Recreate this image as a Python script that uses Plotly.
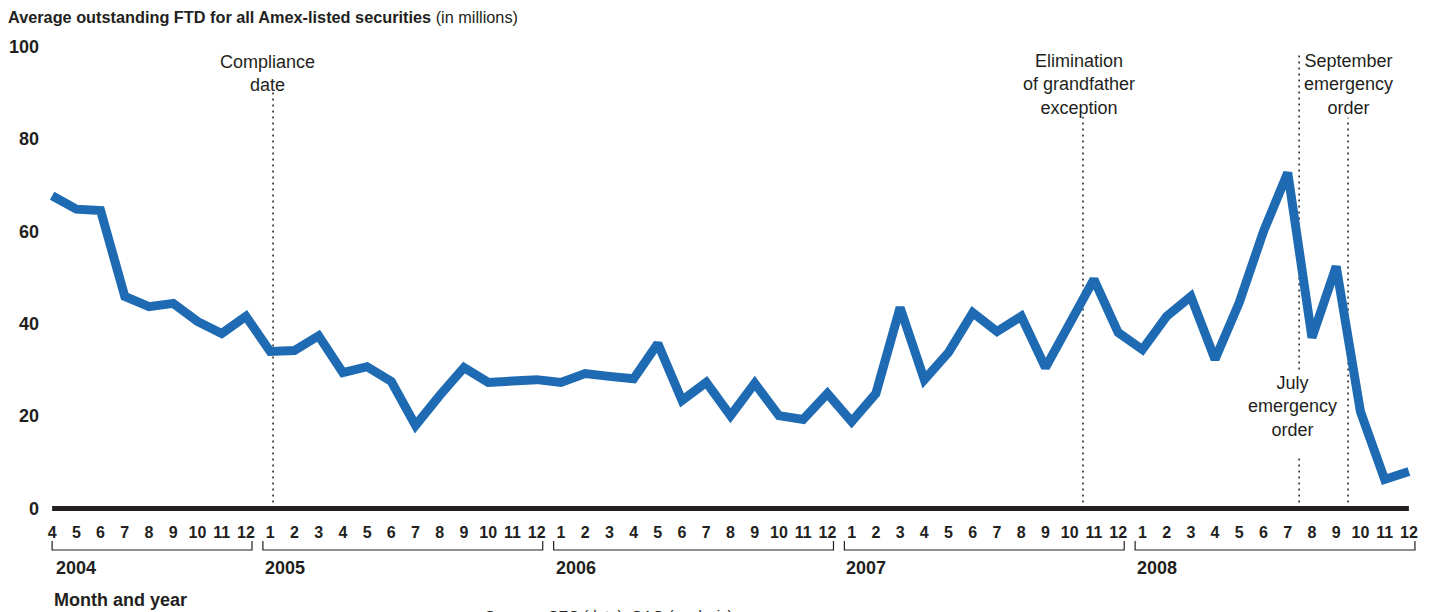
import plotly.graph_objects as go

# monthly average outstanding FTD, Apr 2004 - Dec 2008 (millions)
months = [4, 5, 6, 7, 8, 9, 10, 11, 12] + list(range(1, 13)) * 4
years = [2004, 2005, 2006, 2007, 2008]
ftd = [
    67.7, 64.8, 64.5, 45.9, 43.7, 44.4, 40.5, 37.9, 41.6,
    34.0, 34.2, 37.4, 29.4, 30.7, 27.5, 18.0, 24.5, 30.5, 27.3, 27.7, 27.9,
    27.3, 29.2, 28.6, 28.1, 35.7, 23.4, 27.3, 20.1, 27.1, 20.1, 19.3, 24.9,
    18.8, 24.9, 43.5, 27.9, 33.8, 42.4, 38.3, 41.6, 30.5, 40.3, 49.6, 38.1,
    34.4, 41.6, 45.9, 32.3, 44.6, 60.0, 72.7, 37.0, 52.4, 21.0, 6.3, 8.0,
]
# events, as fractional month index
events = ["Compliance date", "Elimination of grandfather exception",
          "July emergency order", "September emergency order"]
event_x = [9.12, 42.55, 51.47, 53.49]

x = list(range(len(ftd)))
BLUE = "#1f6bb3"
INK = "#231f20"
FONT = "Liberation Sans, Arial, Helvetica, sans-serif"

fig = go.Figure()
fig.add_trace(go.Scatter(x=x, y=ftd, mode="lines",
                         line=dict(color=BLUE, width=9, shape="linear"),
                         hoverinfo="skip", showlegend=False))

# the page body has an 8px margin, so screen rows are figure rows + 8
def py(p):
    # screen pixel row -> paper y (plot area spans screen rows 38..518)
    return (518 - p) / 480

shapes = []
# zero line
shapes.append(dict(type="line", xref="x", yref="y", x0=0, x1=56, y0=0, y1=0,
                   line=dict(color=INK, width=5)))
dot = dict(color=INK, width=1.5, dash="2px,4px")
# dotted event markers
shapes.append(dict(type="line", xref="x", yref="y", x0=event_x[0], x1=event_x[0],
                   y0=0, y1=90.3, line=dot, layer="below"))
shapes.append(dict(type="line", xref="x", yref="y", x0=event_x[1], x1=event_x[1],
                   y0=0, y1=84.8, line=dot, layer="below"))
shapes.append(dict(type="line", xref="x", yref="y", x0=event_x[2], x1=event_x[2],
                   y0=0, y1=11.7, line=dot, layer="below"))
shapes.append(dict(type="line", xref="x", yref="y", x0=event_x[2], x1=event_x[2],
                   y0=30.1, y1=98.3, line=dot, layer="below"))
shapes.append(dict(type="line", xref="x", yref="y", x0=event_x[3], x1=event_x[3],
                   y0=0, y1=84.6, line=dot, layer="below"))

# year brackets
starts, ends = [], []
i = 0
for yr in years:
    n = 9 if yr == 2004 else 12
    starts.append(0 if yr == 2004 else i - 0.3)
    ends.append(i + n - 1 + 0.25)
    i += n
for s, e in zip(starts, ends):
    shapes.append(dict(type="path", xref="x", yref="paper",
                       path=f"M {s},{py(541)} L {s},{py(550)} L {e},{py(550)} L {e},{py(541)}",
                       line=dict(color=INK, width=1.2)))

ann = []
for yr, s in zip(years, starts):
    ann.append(dict(x=s + (0.08 if yr == 2004 else 0), y=py(568), xref="x", yref="paper",
                    text=f"<b>{yr}</b>", showarrow=False, xanchor="left", yanchor="middle",
                    font=dict(size=18, color=INK, family=FONT)))
ann.append(dict(x=0, y=py(600), xref="x", yref="paper", text="<b>Month and year</b>",
                showarrow=False, xanchor="left", yanchor="middle",
                font=dict(size=18, color=INK, family=FONT)))
ann.append(dict(x=17.8, y=py(605), xref="x", yref="paper",
                text="Sources: SEC (data); GAO (analysis).",
                showarrow=False, xanchor="left", yanchor="top",
                font=dict(size=15, color=INK, family=FONT)))

lab = dict(showarrow=False, xref="x", yref="y", xanchor="center", yanchor="middle",
           font=dict(size=18, color=INK, family=FONT))
ann.append(dict(lab, x=8.9, y=94.2, text="Compliance<br>date"))
ann.append(dict(lab, x=42.4, y=91.8, text="Elimination<br>of grandfather<br>exception"))
ann.append(dict(lab, x=51.2, y=22.1, text="July<br>emergency<br>order"))
ann.append(dict(lab, x=53.5, y=91.8, text="September<br>emergency<br>order"))

fig.update_layout(
    width=1434, height=612,
    margin=dict(l=32, r=21, t=30, b=102, autoexpand=False),
    paper_bgcolor="white", plot_bgcolor="white",
    title=dict(text="<b>Average outstanding FTD for all Amex-listed securities</b> (in millions)",
               x=0, xref="container", xanchor="left",
               y=1 - 9 / 612, yref="container", yanchor="middle",
               font=dict(size=16.3, color=INK, family=FONT)),
    xaxis=dict(range=[-0.5, 56.5], tickmode="array", tickvals=x,
               ticktext=[str(m) for m in months], showgrid=False, zeroline=False,
               showline=False, ticks="", ticklabelstandoff=3, automargin=False,
               tickfont=dict(size=16, color=INK, family=FONT, weight="bold")),
    yaxis=dict(range=[-2.05, 101.85], tickmode="array", tickvals=[0, 20, 40, 60, 80, 100],
               showgrid=False, zeroline=False, showline=False, ticks="",
               ticklabelstandoff=0, automargin=False,
               tickfont=dict(size=18, color=INK, family=FONT, weight="bold")),
    shapes=shapes, annotations=ann,
)

fig.write_html("out.html")
